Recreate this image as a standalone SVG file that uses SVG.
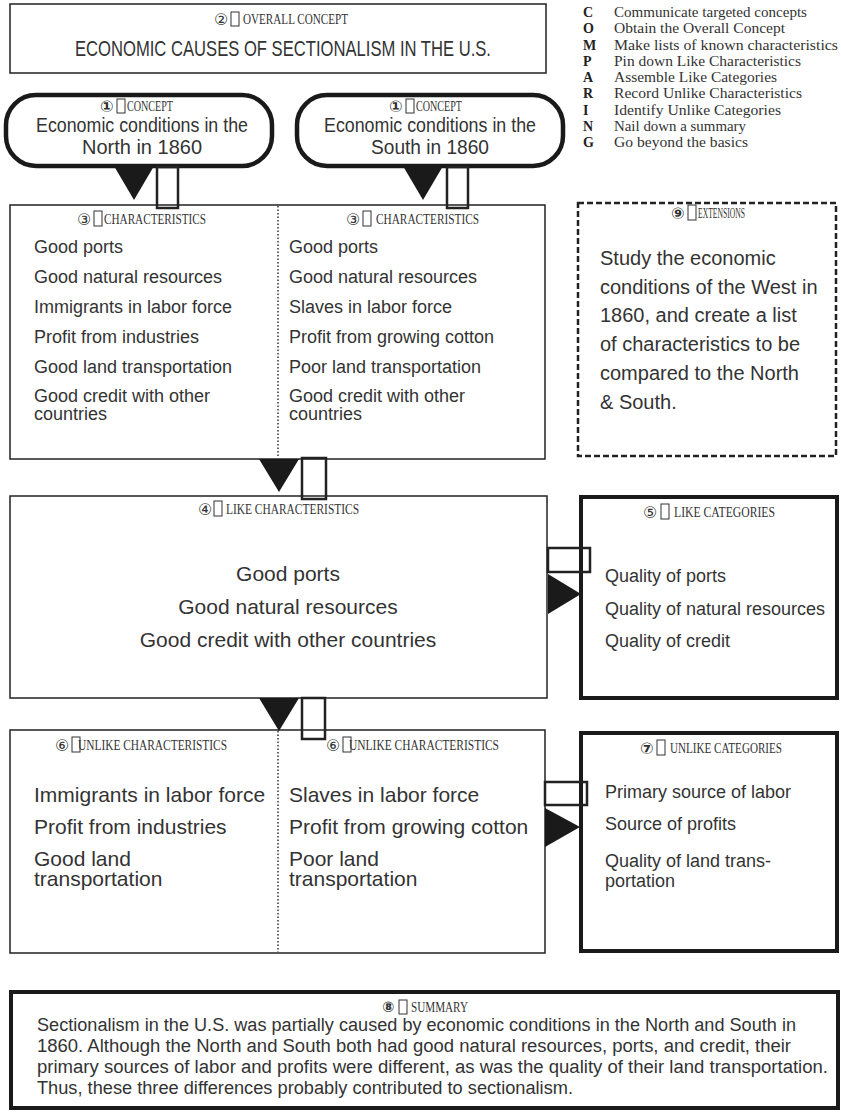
<svg xmlns="http://www.w3.org/2000/svg" width="841" height="1113" viewBox="0 0 841 1113">
<style>
.bg{fill:#fff}
.box{fill:#fff;stroke:#222;stroke-width:1.5}
.thick{fill:#fff;stroke:#1a1a1a;stroke-width:4}
.bubble{fill:#fff;stroke:#1a1a1a;stroke-width:4.5}
.dash{fill:#fff;stroke:#222;stroke-width:2.5;stroke-dasharray:6 3}
.div{stroke:#333;stroke-width:1.5;stroke-dasharray:1.5 2}
.hd{font-family:"Liberation Serif","Times New Roman",serif;font-size:14px;fill:#333}
.num{font-family:"DejaVu Sans","Noto Sans",sans-serif;font-size:16px;fill:#333}
.tofu{fill:none;stroke:#333;stroke-width:1}
.t{font-family:"Liberation Sans",Arial,sans-serif;fill:#333}
.s18{font-size:18px}
.s20{font-size:20px}
.s21{font-size:21px}
.lg{font-family:"Liberation Serif","Times New Roman",serif;font-size:15px;fill:#333}
.lgb{font-weight:bold;fill:#222;font-size:14px}
.tri{fill:#1a1a1a}
.gtofu{fill:none;stroke:#222;stroke-width:2.5}
</style>
<rect class="bg" x="0" y="0" width="841" height="1113"/>

<g id="overall-concept">
  <rect class="box" x="10" y="4" width="536" height="69"/>
  <text class="num" x="214" y="25">②</text>
  <rect class="tofu" x="231" y="12" width="8" height="14"/>
  <text class="hd" x="243" y="24" textLength="105" lengthAdjust="spacingAndGlyphs">OVERALL CONCEPT</text>
  <text class="t" style="font-size:22px" x="283" y="56" text-anchor="middle" textLength="416" lengthAdjust="spacingAndGlyphs">ECONOMIC CAUSES OF SECTIONALISM IN THE U.S.</text>
</g>

<g id="legend">
  <text class="lg lgb" x="583" y="17">C</text><text class="lg" x="614" y="17" textLength="193" lengthAdjust="spacingAndGlyphs">Communicate targeted concepts</text>
  <text class="lg lgb" x="583" y="33">O</text><text class="lg" x="614" y="33" textLength="171" lengthAdjust="spacingAndGlyphs">Obtain the Overall Concept</text>
  <text class="lg lgb" x="583" y="49.5">M</text><text class="lg" x="614" y="49.5" textLength="224" lengthAdjust="spacingAndGlyphs">Make lists of known characteristics</text>
  <text class="lg lgb" x="583" y="66">P</text><text class="lg" x="614" y="66" textLength="187" lengthAdjust="spacingAndGlyphs">Pin down Like Characteristics</text>
  <text class="lg lgb" x="583" y="82">A</text><text class="lg" x="614" y="82" textLength="163" lengthAdjust="spacingAndGlyphs">Assemble Like Categories</text>
  <text class="lg lgb" x="583" y="98">R</text><text class="lg" x="614" y="98" textLength="188" lengthAdjust="spacingAndGlyphs">Record Unlike Characteristics</text>
  <text class="lg lgb" x="583" y="114.5">I</text><text class="lg" x="614" y="114.5" textLength="167" lengthAdjust="spacingAndGlyphs">Identify Unlike Categories</text>
  <text class="lg lgb" x="583" y="131">N</text><text class="lg" x="614" y="131" textLength="132" lengthAdjust="spacingAndGlyphs">Nail down a summary</text>
  <text class="lg lgb" x="583" y="147">G</text><text class="lg" x="614" y="147" textLength="134" lengthAdjust="spacingAndGlyphs">Go beyond the basics</text>
</g>

<g id="concept-north">
  <rect class="bubble" x="6" y="95" width="266" height="71" rx="30" ry="30"/>
  <text class="num" x="100" y="112" font-weight="bold">①</text>
  <rect class="tofu" x="117" y="99" width="8" height="14"/>
  <text class="hd" x="127" y="111" textLength="46" lengthAdjust="spacingAndGlyphs">CONCEPT</text>
  <text class="t" style="font-size:20px" x="142" y="132" text-anchor="middle" textLength="212" lengthAdjust="spacingAndGlyphs">Economic conditions in the</text>
  <text class="t" style="font-size:20px" x="142" y="154" text-anchor="middle" textLength="120" lengthAdjust="spacingAndGlyphs">North in 1860</text>
</g>

<g id="concept-south">
  <rect class="bubble" x="297" y="95" width="266" height="71" rx="30" ry="30"/>
  <text class="num" x="389" y="112" font-weight="bold">①</text>
  <rect class="tofu" x="406" y="99" width="8" height="14"/>
  <text class="hd" x="416" y="111" textLength="46" lengthAdjust="spacingAndGlyphs">CONCEPT</text>
  <text class="t" style="font-size:20px" x="430" y="132" text-anchor="middle" textLength="212" lengthAdjust="spacingAndGlyphs">Economic conditions in the</text>
  <text class="t" style="font-size:20px" x="430" y="154" text-anchor="middle" textLength="118" lengthAdjust="spacingAndGlyphs">South in 1860</text>
</g>

<g id="characteristics">
  <rect class="box" x="10" y="205" width="535" height="254"/>
  <line class="div" x1="278" y1="206" x2="278" y2="458"/>
  <text class="num" x="77" y="225">③</text>
  <rect class="tofu" x="94" y="211" width="8" height="15"/>
  <text class="hd" x="104" y="224" textLength="102" lengthAdjust="spacingAndGlyphs">CHARACTERISTICS</text>
  <text class="num" x="346" y="225">③</text>
  <rect class="tofu" x="363" y="211" width="8" height="15"/>
  <text class="hd" x="376" y="224" textLength="103" lengthAdjust="spacingAndGlyphs">CHARACTERISTICS</text>
  <g class="t s18">
    <text x="34" y="253">Good ports</text>
    <text x="34" y="283">Good natural resources</text>
    <text x="34" y="313">Immigrants in labor force</text>
    <text x="34" y="343">Profit from industries</text>
    <text x="34" y="373">Good land transportation</text>
    <text x="34" y="402">Good credit with other</text>
    <text x="34" y="420">countries</text>
    <text x="289" y="253">Good ports</text>
    <text x="289" y="283">Good natural resources</text>
    <text x="289" y="313">Slaves in labor force</text>
    <text x="289" y="343">Profit from growing cotton</text>
    <text x="289" y="373">Poor land transportation</text>
    <text x="289" y="402">Good credit with other</text>
    <text x="289" y="420">countries</text>
  </g>
</g>

<g id="extensions">
  <rect class="dash" x="578" y="203" width="258" height="253"/>
  <text class="num" x="671" y="219" font-weight="bold">⑨</text>
  <rect class="tofu" x="688" y="205" width="8" height="15"/>
  <text class="hd" x="698" y="218" textLength="47" lengthAdjust="spacingAndGlyphs">EXTENSIONS</text>
  <g class="t s20">
    <text x="600" y="265">Study the economic</text>
    <text x="600" y="294">conditions of the West in</text>
    <text x="600" y="322">1860, and create a list</text>
    <text x="600" y="351">of characteristics to be</text>
    <text x="600" y="380">compared to the North</text>
    <text x="600" y="409">&amp; South.</text>
  </g>
</g>

<g id="like-characteristics">
  <rect class="box" x="10" y="496" width="537" height="202"/>
  <text class="num" x="198" y="515">④</text>
  <rect class="tofu" x="214" y="501" width="8" height="15"/>
  <text class="hd" x="226" y="514" textLength="133" lengthAdjust="spacingAndGlyphs">LIKE CHARACTERISTICS</text>
  <g class="t s21" text-anchor="middle">
    <text x="288" y="581">Good ports</text>
    <text x="288" y="614">Good natural resources</text>
    <text x="288" y="647">Good credit with other countries</text>
  </g>
</g>

<g id="like-categories">
  <rect class="thick" x="581" y="497" width="256" height="201"/>
  <text class="num" x="643" y="518">⑤</text>
  <rect class="tofu" x="661" y="504" width="8" height="15"/>
  <text class="hd" x="674" y="517" textLength="101" lengthAdjust="spacingAndGlyphs">LIKE CATEGORIES</text>
  <g class="t s18">
    <text x="605" y="582">Quality of ports</text>
    <text x="605" y="615">Quality of natural resources</text>
    <text x="605" y="647">Quality of credit</text>
  </g>
</g>

<g id="unlike-characteristics">
  <rect class="box" x="10" y="730" width="535" height="223"/>
  <line class="div" x1="278" y1="731" x2="278" y2="952"/>
  <text class="num" x="55" y="751">⑥</text>
  <text class="hd" x="78" y="750" textLength="149" lengthAdjust="spacingAndGlyphs">UNLIKE CHARACTERISTICS</text>
  <rect class="tofu" x="72" y="737" width="8" height="15"/>
  <text class="num" x="326" y="751">⑥</text>
  <text class="hd" x="349" y="750" textLength="150" lengthAdjust="spacingAndGlyphs">UNLIKE CHARACTERISTICS</text>
  <rect class="tofu" x="343" y="737" width="8" height="15"/>
  <g class="t s21">
    <text x="34" y="802">Immigrants in labor force</text>
    <text x="34" y="834">Profit from industries</text>
    <text x="34" y="866">Good land</text>
    <text x="34" y="886">transportation</text>
    <text x="289" y="802">Slaves in labor force</text>
    <text x="289" y="834">Profit from growing cotton</text>
    <text x="289" y="866">Poor land</text>
    <text x="289" y="886">transportation</text>
  </g>
</g>

<g id="unlike-categories">
  <rect class="thick" x="581" y="733" width="256" height="218"/>
  <text class="num" x="640" y="754" font-weight="bold">⑦</text>
  <rect class="tofu" x="657" y="740" width="8" height="15"/>
  <text class="hd" x="670" y="753" textLength="112" lengthAdjust="spacingAndGlyphs">UNLIKE CATEGORIES</text>
  <g class="t s18">
    <text x="605" y="798">Primary source of labor</text>
    <text x="605" y="830">Source of profits</text>
    <text x="605" y="867">Quality of land trans-</text>
    <text x="605" y="887">portation</text>
  </g>
</g>

<g id="summary">
  <rect class="thick" x="11" y="992" width="827" height="116"/>
  <text class="num" x="382" y="1012" font-weight="bold" style="font-size:14.5px">⑧</text>
  <rect class="tofu" x="399" y="1000" width="8" height="14"/>
  <text class="hd" x="411" y="1012" textLength="57" lengthAdjust="spacingAndGlyphs">SUMMARY</text>
  <g class="t s18">
    <text x="37" y="1031" textLength="759" lengthAdjust="spacingAndGlyphs">Sectionalism in the U.S. was partially caused by economic conditions in the North and South in</text>
    <text x="37" y="1052" textLength="754" lengthAdjust="spacingAndGlyphs">1860. Although the North and South both had good natural resources, ports, and credit, their</text>
    <text x="37" y="1073" textLength="791" lengthAdjust="spacingAndGlyphs">primary sources of labor and profits were different, as was the quality of their land transportation.</text>
    <text x="37" y="1094" textLength="536" lengthAdjust="spacingAndGlyphs">Thus, these three differences probably contributed to sectionalism.</text>
  </g>
</g>

<g id="connectors">
  <polygon class="tri" points="114,166 154,166 134,200"/>
  <rect class="gtofu" x="157" y="167" width="21" height="41"/>
  <polygon class="tri" points="403,166 443,166 423,200"/>
  <rect class="gtofu" x="447" y="167" width="21" height="41"/>
  <polygon class="tri" points="259,459 299,459 279,492"/>
  <rect class="gtofu" x="302" y="458" width="24" height="41"/>
  <polygon class="tri" points="259,698 299,698 279,731"/>
  <rect class="gtofu" x="302" y="698" width="23" height="41"/>
  <rect class="gtofu" x="548" y="548" width="42" height="24"/>
  <polygon class="tri" points="548,574 548,614 581,594"/>
  <rect class="gtofu" x="545" y="782" width="42" height="23"/>
  <polygon class="tri" points="545,808 545,847 580,827"/>
</g>
</svg>
